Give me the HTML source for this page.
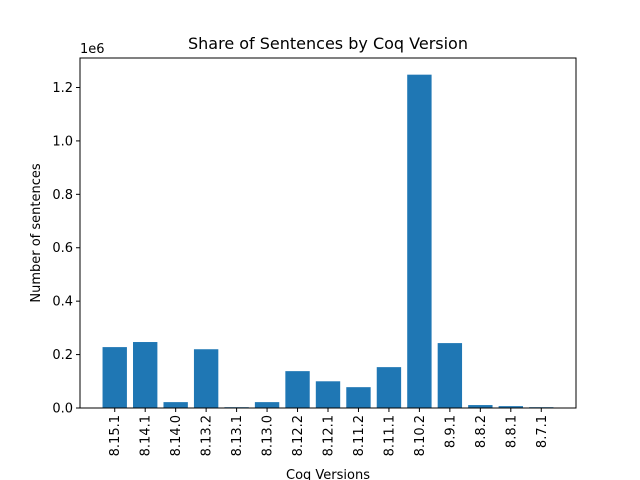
<!DOCTYPE html>
<html><head><meta charset="utf-8"><style>
body{margin:0;background:#fff;}
svg{display:block;font-family:"DejaVu Sans","Liberation Sans",sans-serif;}
</style></head><body>
<svg id="chart" width="640" height="480">
<rect width="640" height="480" fill="#fff"/>
<text x="328" y="49" font-size="16" text-anchor="middle" fill="#000">Share of Sentences by Coq Version</text>
<text x="80" y="53" font-size="13" fill="#000">1e6</text>
<text transform="translate(40,233) rotate(-90)" font-size="13" text-anchor="middle" fill="#000">Number of sentences</text>
<text x="328" y="479" font-size="13" text-anchor="middle" fill="#000">Coq Versions</text>
<g id="bars"></g><g id="ticks"></g>
<rect x="80" y="58" width="496" height="350" fill="none" stroke="#000" stroke-width="1"/>
</svg>
<script>
const categories=["8.15.1","8.14.1","8.14.0","8.13.2","8.13.1","8.13.0","8.12.2","8.12.1","8.11.2","8.11.1","8.10.2","8.9.1","8.8.2","8.8.1","8.7.1"];
const values=[228000,247000,22000,220000,3000,22000,138000,100000,78000,153000,1248000,243000,11000,7000,3000];
const yTicks=[0,200000,400000,600000,800000,1000000,1200000];
const yTickLabels=["0.0","0.2","0.4","0.6","0.8","1.0","1.2"];
const L=80,R=576,T=58,B=408;
const xmin=-1.14,xmax=categories.length-1+1.14;
const ymax=1310400;
const xs=i=>L+(i-xmin)/(xmax-xmin)*(R-L);
const ys=v=>B-v/ymax*(B-T);
const ns="http://www.w3.org/2000/svg";
const bars=document.getElementById('bars'),ticks=document.getElementById('ticks');
const bw=xs(0.8)-xs(0);
values.forEach((v,i)=>{
 const r=document.createElementNS(ns,'rect');
 r.setAttribute('x',xs(i)-bw/2);r.setAttribute('y',ys(v));
 r.setAttribute('width',bw);r.setAttribute('height',B-ys(v));r.setAttribute('fill','#1f77b4');
 
 
 bars.appendChild(r);
 const t=document.createElementNS(ns,'line');
 t.setAttribute('x1',xs(i));t.setAttribute('x2',xs(i));t.setAttribute('y1',B);t.setAttribute('y2',B+4);t.setAttribute('stroke','#000');
 
 
 ticks.appendChild(t);
 const tx=document.createElementNS(ns,'text');
 tx.setAttribute('transform','translate('+(xs(i)+4.5)+','+(B+7)+') rotate(-90)');
 tx.setAttribute('font-size','13');tx.setAttribute('text-anchor','end');
 tx.textContent=categories[i];
 
 
 ticks.appendChild(tx);
});
yTicks.forEach((v,i)=>{
 const t=document.createElementNS(ns,'line');
 t.setAttribute('x1',L-4);t.setAttribute('x2',L);t.setAttribute('y1',ys(v));t.setAttribute('y2',ys(v));t.setAttribute('stroke','#000');
 
 
 ticks.appendChild(t);
 const tx=document.createElementNS(ns,'text');
 tx.setAttribute('x',L-7);tx.setAttribute('y',ys(v)+4.5);
 tx.setAttribute('font-size','13');tx.setAttribute('text-anchor','end');
 tx.textContent=yTickLabels[i];
 
 
 ticks.appendChild(tx);
});
</script>
</body></html>
